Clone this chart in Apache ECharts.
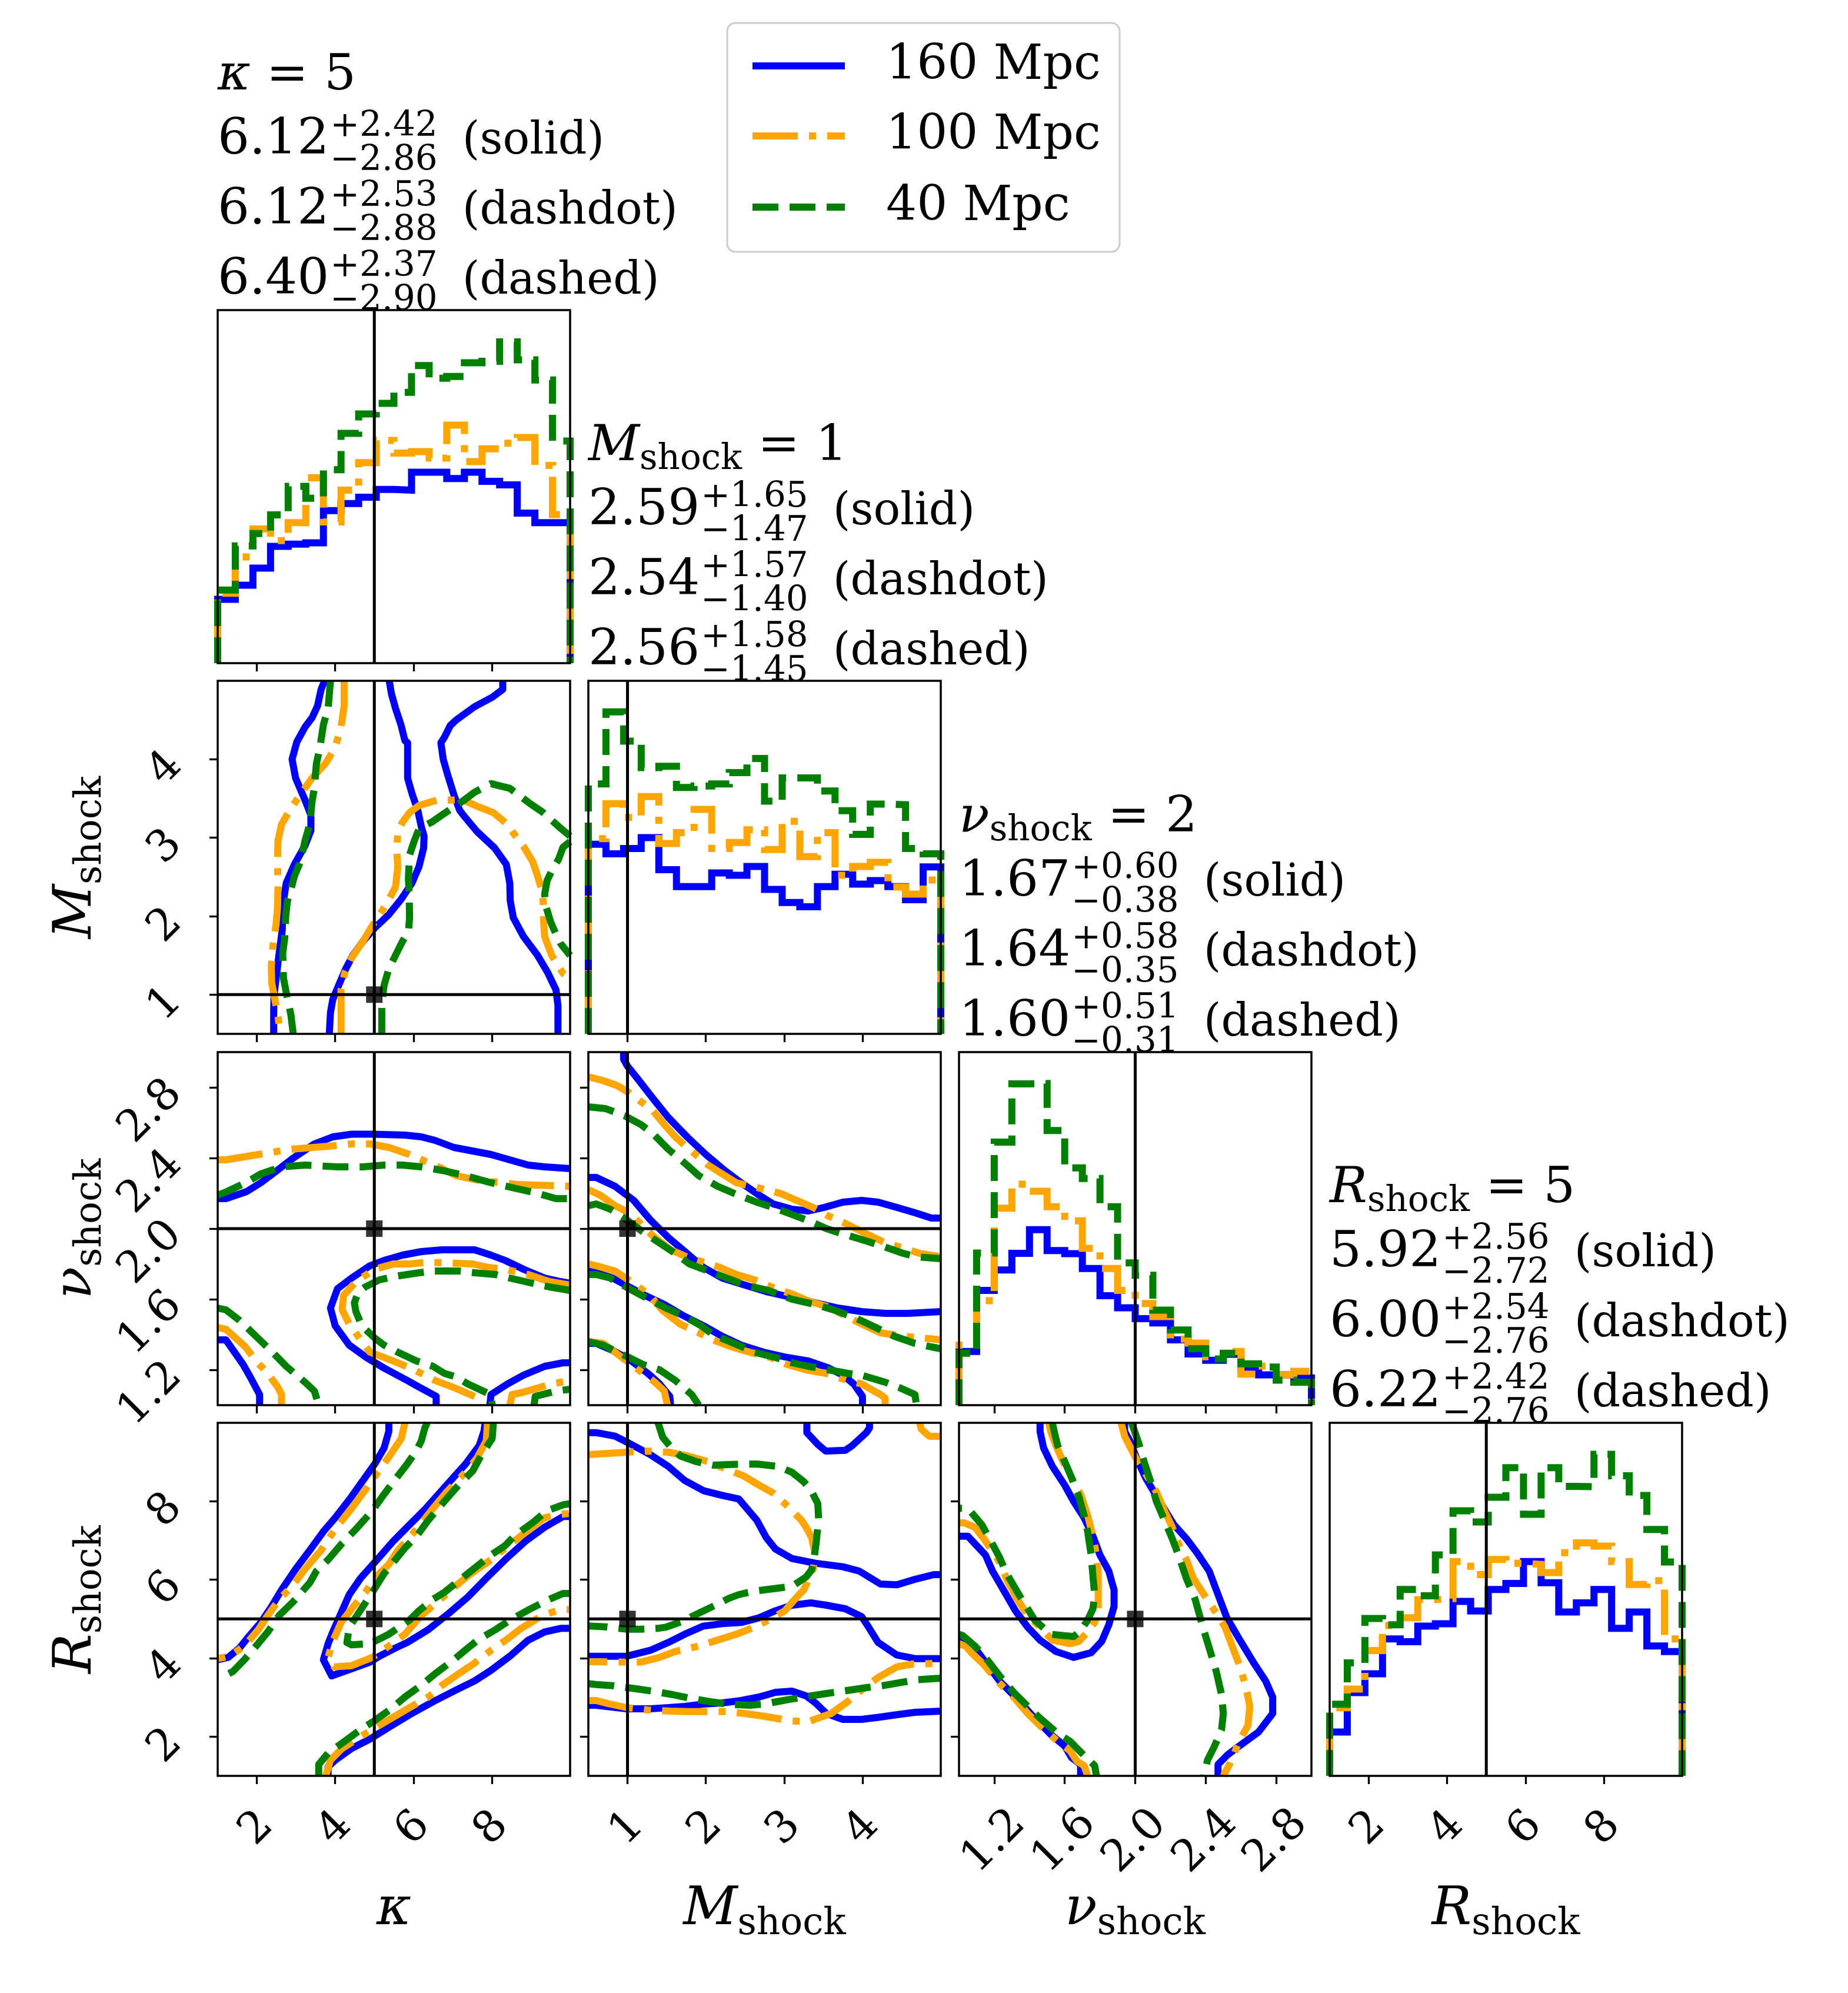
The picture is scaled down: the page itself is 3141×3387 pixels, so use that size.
<!DOCTYPE html>
<html><head><meta charset="utf-8">
<script src="https://cdn.jsdelivr.net/npm/echarts@6/dist/echarts.min.js"></script>
<style>html,body{margin:0;padding:0;background:#fff}#c{width:3141px;height:3387px}</style>
</head><body><div id="c"></div>
<script>
// ---------------- DATA ----------------
const paramKeys = ['kappa','M','nu','R'];
const rangeKappa = [1,10], rangeM = [0.5,5], rangeNu = [1,3], rangeR = [1,10];
const tickKappa = [2,4,6,8], tickM = [1,2,3,4], tickNu = [1.2,1.6,2.0,2.4,2.8], tickR = [2,4,6,8];
const truthValues = [5,1,2,5];
const legendNames = ['160 Mpc','100 Mpc','40 Mpc'];
const styleNames = ['solid','dashdot','dashed'];
const medians  = [['6.12','6.12','6.40'],['2.59','2.54','2.56'],['1.67','1.64','1.60'],['5.92','6.00','6.22']];
const errPlus  = [['2.42','2.53','2.37'],['1.65','1.57','1.58'],['0.60','0.58','0.51'],['2.56','2.54','2.42']];
const errMinus = [['2.86','2.88','2.90'],['1.47','1.40','1.45'],['0.38','0.35','0.31'],['2.72','2.76','2.76']];

const edgesKappa = [1.00,1.45,1.90,2.35,2.80,3.25,3.70,4.15,4.60,5.05,5.50,5.95,6.40,6.85,7.30,7.75,8.20,8.65,9.10,9.55,10.00];
const edgesM = [0.500,0.725,0.950,1.175,1.400,1.625,1.850,2.075,2.300,2.525,2.750,2.975,3.200,3.425,3.650,3.875,4.100,4.325,4.550,4.775,5.000];
const edgesNu = [1.0,1.1,1.2,1.3,1.4,1.5,1.6,1.7,1.8,1.9,2.0,2.1,2.2,2.3,2.4,2.5,2.6,2.7,2.8,2.9,3.0];
const edgesR = [1.00,1.45,1.90,2.35,2.80,3.25,3.70,4.15,4.60,5.05,5.50,5.95,6.40,6.85,7.30,7.75,8.20,8.65,9.10,9.55,10.00];

const histKappa160 = [18.1,22.1,26.9,33.1,33.7,34.1,43.2,45.2,47.0,49.2,49.0,54.1,54.1,52.3,54.1,51.5,50.5,42.5,39.8,39.8];
const histKappa100 = [19.8,30.1,38.0,34.7,39.8,52.5,40.0,49.0,56.8,63.1,59.5,59.9,58.1,67.4,57.1,60.7,62.3,63.9,56.0,42.1];
const histKappa40  = [20.7,33.2,36.7,42.0,50.1,46.7,54.8,65.1,70.6,73.6,76.7,84.3,80.7,81.2,85.1,85.5,91.0,85.9,80.2,62.9];
const histM160 = [53.7,51.0,52.5,55.6,46.5,41.7,41.7,45.6,44.9,47.4,40.9,37.2,36.0,41.7,45.2,42.4,43.4,41.7,38.0,47.3];
const histM100 = [55.3,65.2,61.3,67.2,53.9,57.0,63.6,52.5,54.2,57.8,52.2,60.2,50.2,57.0,44.9,47.4,48.6,41.6,39.6,43.6];
const histM40  = [70.8,91.2,82.9,75.4,75.8,69.8,70.2,70.8,74.0,78.0,65.9,72.5,72.5,68.8,63.2,56.5,65.1,64.9,52.5,51.0];
const histNu160 = [15.2,32.5,38.3,43.0,49.7,43.8,42.9,38.7,31.0,27.6,24.5,23.3,18.5,14.5,12.7,14.4,10.3,8.6,8.6,7.7];
const histNu100 = [17.0,29.6,55.8,62.6,60.6,56.2,52.2,44.4,38.7,32.5,28.8,25.1,18.7,17.6,13.7,15.2,8.8,11.1,8.6,9.6];
const histNu40  = [14.7,43.1,74.5,91.0,91.1,77.8,67.2,64.2,56.2,40.3,36.8,26.9,21.3,16.0,13.1,14.7,11.7,10.8,7.1,6.5];
const histR160 = [12.4,23.6,28.9,38.8,38.0,42.4,43.1,49.4,46.7,52.8,54.5,60.7,54.7,46.4,49.0,52.8,41.8,46.4,36.8,35.2];
const histR100 = [19.3,24.6,35.5,42.6,44.8,49.9,50.2,60.7,57.0,61.3,60.2,59.9,57.6,63.2,66.0,65.1,60.7,54.2,55.3,38.8];
const histR40  = [20.3,32.0,44.6,42.8,52.8,51.0,62.6,75.1,71.9,78.9,87.3,74.1,87.3,82.0,81.9,91.1,85.0,79.4,69.8,60.6];

// contour lines (x,y) per panel per dataset
const ctrKappaM160 = [
 [[3.73,5.00],[3.64,4.89],[3.55,4.68],[3.41,4.53],[3.23,4.41],[3.02,4.22],[2.90,4.00],[2.99,3.76],[3.23,3.48],[3.38,3.29],[3.38,3.09],[3.23,2.90],[2.96,2.66],[2.75,2.42],[2.66,2.13],[2.65,1.83],[2.57,1.53],[2.50,1.24],[2.44,1.00],[2.43,0.80],[2.43,0.50]],
 [[5.38,5.00],[5.44,4.83],[5.54,4.65],[5.68,4.44],[5.78,4.24],[5.85,4.21],[5.85,3.76],[5.97,3.55],[6.11,3.35],[6.20,3.14],[6.27,3.02],[6.26,2.87],[6.14,2.63],[5.96,2.42],[5.69,2.22],[5.37,2.02],[5.01,1.85],[4.71,1.68],[4.45,1.50],[4.27,1.33],[4.09,1.12],[3.94,0.94],[3.88,0.77],[3.85,0.50]],
 [[8.28,5.00],[8.28,4.89],[8.01,4.79],[7.56,4.67],[7.09,4.50],[6.94,4.43],[6.79,4.28],[6.70,4.21],[6.76,4.00],[6.88,3.79],[7.03,3.55],[7.18,3.35],[7.27,3.29],[7.62,3.08],[8.07,2.87],[8.37,2.66],[8.46,2.42],[8.47,2.20],[8.55,1.98],[8.81,1.74],[9.17,1.50],[9.44,1.27],[9.64,1.06],[9.69,0.86],[9.69,0.50]]
];
const ctrKappaM100 = [
 [[4.23,5.00],[4.23,4.68],[4.15,4.41],[4.00,4.15],[3.76,3.95],[3.41,3.76],[3.11,3.55],[2.84,3.35],[2.63,3.17],[2.54,2.96],[2.53,2.72],[2.54,2.37],[2.53,2.13],[2.49,1.89],[2.41,1.62],[2.37,1.36],[2.38,1.15],[2.46,0.94],[2.54,0.73],[2.59,0.50]],
 [[4.15,0.50],[4.15,1.06],[4.24,1.27],[4.42,1.47],[4.71,1.68],[5.01,1.93],[5.28,2.13],[5.54,2.37],[5.60,2.63],[5.57,2.84],[5.60,3.08],[5.72,3.20],[5.90,3.32],[6.14,3.41],[6.61,3.48],[6.85,3.48],[7.27,3.48],[7.68,3.39],[8.04,3.32],[8.40,3.17],[8.55,3.06],[8.81,2.89],[9.05,2.69],[9.17,2.51],[9.29,2.31],[9.32,2.13],[9.32,1.95],[9.35,1.74],[9.53,1.50],[9.82,1.27],[10.0,1.21]]
];
const ctrKappaM40 = [
 [[3.88,5.00],[3.82,4.65],[3.70,4.44],[3.61,4.15],[3.52,3.94],[3.47,3.64],[3.41,3.46],[3.35,3.17],[3.23,2.96],[3.11,2.69],[2.96,2.51],[2.87,2.34],[2.78,2.19],[2.74,2.01],[2.71,1.71],[2.66,1.53],[2.68,1.21],[2.75,1.03],[2.87,0.74],[2.93,0.50]],
 [[5.19,0.50],[5.19,0.88],[5.25,1.12],[5.37,1.33],[5.54,1.50],[5.72,1.68],[5.87,1.80],[5.90,1.98],[5.89,2.28],[5.87,2.48],[5.90,2.78],[6.02,2.96],[6.14,3.11],[6.26,3.15],[6.47,3.20],[6.73,3.29],[7.24,3.46],[7.56,3.58],[7.98,3.69],[8.13,3.67],[8.46,3.63],[8.99,3.43],[9.29,3.33],[9.76,3.12],[10.0,3.02]],
 [[10.0,2.95],[9.82,2.88],[9.70,2.72],[9.55,2.60],[9.41,2.45],[9.35,2.28],[9.38,2.13],[9.50,1.93],[9.64,1.77],[9.76,1.65],[10.0,1.50]]
];
const ctrKappaNu160 = [
 [[1.00,2.17],[1.21,2.17],[1.74,2.21],[2.10,2.26],[2.46,2.32],[2.93,2.40],[3.47,2.48],[3.94,2.52],[4.42,2.535],[4.95,2.535],[5.78,2.53],[6.20,2.52],[6.55,2.50],[7.03,2.46],[7.98,2.42],[8.93,2.36],[9.35,2.35],[10.0,2.34]],
 [[10.0,1.69],[9.76,1.70],[9.35,1.72],[8.81,1.77],[8.34,1.82],[7.98,1.85],[7.56,1.88],[7.09,1.88],[6.73,1.88],[6.20,1.87],[5.72,1.85],[5.25,1.82],[4.89,1.79],[4.42,1.72],[4.06,1.66],[3.88,1.55],[4.00,1.45],[4.36,1.34],[4.80,1.27],[5.25,1.21],[5.84,1.14],[6.08,1.11],[6.58,1.05],[6.58,1.00]],
 [[7.95,1.00],[7.98,1.06],[8.40,1.12],[8.81,1.17],[9.35,1.22],[9.82,1.24],[10.0,1.24]],
 [[1.00,1.37],[1.21,1.37],[1.65,1.23],[1.83,1.16],[2.07,1.06],[2.07,1.00]]
];
const ctrKappaNu100 = [
 [[1.00,2.39],[1.21,2.39],[2.04,2.42],[2.87,2.45],[4.00,2.47],[4.42,2.48],[4.89,2.48],[5.37,2.46],[5.90,2.42],[6.32,2.38],[6.73,2.34],[7.09,2.30],[7.74,2.27],[8.28,2.26],[8.63,2.25],[10.0,2.24]],
 [[10.0,1.68],[9.47,1.70],[8.93,1.74],[8.34,1.77],[7.92,1.78],[7.51,1.80],[6.38,1.81],[5.90,1.80],[5.49,1.80],[5.01,1.77],[4.53,1.70],[4.21,1.62],[4.18,1.54],[4.36,1.46],[4.65,1.37],[4.89,1.30],[5.25,1.27],[5.60,1.24],[6.02,1.20],[6.55,1.14],[7.03,1.10],[7.45,1.06],[7.65,1.04],[7.68,1.00]],
 [[8.46,1.00],[8.52,1.06],[8.75,1.07],[9.53,1.12],[10.0,1.14]],
 [[1.00,1.44],[1.21,1.43],[1.71,1.33],[1.98,1.25],[2.28,1.18],[2.54,1.10],[2.63,1.06],[2.63,1.00]]
];
const ctrKappaNu40 = [
 [[1.00,2.19],[1.24,2.21],[1.80,2.27],[2.10,2.31],[2.63,2.35],[3.23,2.36],[4.06,2.35],[4.71,2.35],[5.25,2.36],[5.72,2.36],[6.20,2.35],[6.73,2.33],[7.33,2.30],[7.98,2.26],[8.57,2.23],[9.17,2.20],[9.64,2.17],[10.0,2.17]],
 [[10.0,1.65],[9.47,1.67],[9.05,1.69],[8.46,1.72],[8.10,1.74],[7.56,1.75],[7.15,1.76],[6.50,1.76],[6.14,1.75],[5.54,1.73],[5.13,1.71],[4.77,1.67],[4.59,1.64],[4.49,1.58],[4.53,1.53],[4.68,1.45],[5.01,1.38],[5.25,1.34],[5.60,1.30],[6.08,1.25],[6.50,1.22],[6.79,1.18],[7.09,1.16],[7.39,1.12],[7.68,1.09],[7.98,1.06],[8.01,1.00]],
 [[9.08,1.00],[9.11,1.05],[9.64,1.08],[10.0,1.09]],
 [[1.00,1.55],[1.21,1.54],[1.56,1.48],[1.98,1.39],[2.40,1.30],[2.75,1.22],[3.23,1.13],[3.47,1.08],[3.58,1.00]]
];
const ctrMNu160 = [
 [[0.95,3.00],[0.95,2.96],[1.00,2.92],[1.11,2.86],[1.32,2.74],[1.52,2.63],[1.76,2.52],[2.00,2.42],[2.24,2.33],[2.45,2.26],[2.68,2.19],[2.86,2.14],[3.10,2.11],[3.31,2.10],[3.51,2.12],[3.75,2.15],[3.99,2.16],[4.20,2.15],[4.44,2.12],[4.67,2.09],[4.88,2.06],[5.00,2.06]],
 [[0.50,2.29],[0.60,2.29],[0.84,2.24],[1.08,2.16],[1.29,2.05],[1.52,1.95],[1.76,1.86],[1.97,1.78],[2.21,1.72],[2.50,1.68],[2.80,1.64],[3.10,1.61],[3.40,1.58],[3.69,1.55],[3.99,1.53],[4.29,1.52],[4.58,1.52],[5.00,1.53]],
 [[0.50,1.76],[0.60,1.75],[0.81,1.72],[1.02,1.67],[1.23,1.62],[1.47,1.57],[1.70,1.51],[1.97,1.45],[2.21,1.39],[2.45,1.34],[2.74,1.30],[3.04,1.27],[3.31,1.25],[3.57,1.21],[3.75,1.17],[3.89,1.12],[4.00,1.05],[4.00,1.00]],
 [[0.50,1.35],[0.60,1.35],[0.81,1.31],[1.02,1.26],[1.26,1.18],[1.41,1.12],[1.54,1.05],[1.55,1.00]]
];
const ctrMNu100 = [
 [[0.50,2.86],[0.68,2.84],[0.87,2.81],[1.02,2.77],[1.32,2.67],[1.47,2.59],[1.61,2.52],[1.76,2.46],[2.03,2.36],[2.21,2.31],[2.39,2.26],[2.68,2.23],[2.95,2.20],[3.16,2.16],[3.37,2.12],[3.57,2.07],[3.78,2.03],[4.05,1.97],[4.29,1.92],[4.52,1.89],[4.73,1.86],[5.00,1.84]],
 [[0.50,2.22],[0.65,2.19],[0.84,2.13],[1.02,2.09],[1.14,2.04],[1.32,1.96],[1.55,1.88],[1.76,1.84],[1.97,1.81],[2.18,1.78],[2.39,1.74],[2.62,1.71],[2.89,1.66],[3.10,1.63],[3.31,1.59],[3.54,1.56],[3.81,1.50],[3.99,1.46],[4.23,1.41],[4.52,1.39],[4.79,1.38],[5.00,1.37]],
 [[0.50,1.80],[0.60,1.79],[0.84,1.76],[1.11,1.68],[1.29,1.62],[1.44,1.54],[1.67,1.46],[1.91,1.41],[2.09,1.37],[2.33,1.33],[2.56,1.30],[2.83,1.27],[3.04,1.23],[3.28,1.20],[3.54,1.18],[3.81,1.14],[3.99,1.12],[4.23,1.06],[4.29,1.04],[4.29,1.00]],
 [[0.50,1.36],[0.69,1.35],[0.84,1.30],[1.02,1.24],[1.20,1.18],[1.35,1.13],[1.47,1.08],[1.51,1.00]]
];
const ctrMNu40 = [
 [[0.50,2.69],[0.72,2.68],[0.96,2.64],[1.17,2.59],[1.32,2.54],[1.52,2.45],[1.76,2.36],[1.91,2.30],[2.15,2.24],[2.36,2.20],[2.65,2.15],[2.86,2.12],[3.10,2.08],[3.34,2.04],[3.54,2.00],[3.75,1.97],[4.05,1.93],[4.26,1.90],[4.52,1.86],[4.70,1.84],[5.00,1.83]],
 [[0.50,2.13],[0.60,2.14],[0.78,2.11],[0.99,2.05],[1.20,1.98],[1.44,1.91],[1.61,1.86],[1.79,1.80],[2.03,1.76],[2.33,1.71],[2.50,1.68],[2.80,1.65],[3.10,1.60],[3.40,1.57],[3.63,1.54],[3.93,1.49],[4.17,1.44],[4.41,1.39],[4.67,1.35],[4.88,1.33],[5.00,1.32]],
 [[0.50,1.74],[0.60,1.74],[0.78,1.72],[1.02,1.66],[1.23,1.61],[1.49,1.55],[1.70,1.51],[1.94,1.45],[2.09,1.40],[2.36,1.35],[2.62,1.30],[2.89,1.27],[3.10,1.24],[3.31,1.22],[3.57,1.20],[3.81,1.18],[3.99,1.17],[4.29,1.13],[4.47,1.10],[4.67,1.06],[4.69,1.00]],
 [[0.50,1.36],[0.69,1.34],[0.87,1.30],[1.02,1.27],[1.20,1.23],[1.41,1.20],[1.61,1.14],[1.82,1.06],[1.91,1.00]]
];
const ctrKappaR160 = [
 [[5.37,10.00],[5.37,9.78],[5.25,9.36],[5.01,8.95],[4.71,8.53],[4.42,8.12],[4.00,7.58],[3.70,7.23],[3.35,6.75],[2.99,6.27],[2.63,5.74],[2.34,5.26],[2.10,4.91],[1.74,4.49],[1.56,4.26],[1.27,4.02],[1.00,3.96]],
 [[7.83,10.00],[7.80,9.78],[7.68,9.42],[7.33,8.95],[6.79,8.35],[6.32,7.82],[5.90,7.40],[5.49,6.99],[5.07,6.51],[4.65,6.04],[4.36,5.62],[4.15,5.15],[3.94,4.67],[3.82,4.37],[3.70,3.96],[3.91,3.55],[4.48,3.75],[4.89,3.90],[5.13,4.05],[5.54,4.26],[5.84,4.40],[6.38,4.73],[6.91,5.15],[7.39,5.56],[7.86,6.04],[8.34,6.51],[8.87,6.99],[9.35,7.34],[9.82,7.61],[10.0,7.61]],
 [[3.82,1.00],[3.82,1.23],[4.00,1.40],[4.42,1.70],[4.89,1.94],[5.37,2.24],[5.90,2.56],[6.50,2.89],[7.09,3.19],[7.56,3.42],[7.98,3.69],[8.46,4.05],[8.93,4.46],[9.35,4.67],[9.76,4.76],[10.0,4.76]]
];
const ctrKappaR100 = [
 [[5.78,10.00],[5.69,9.60],[5.37,9.13],[5.07,8.71],[4.77,8.29],[4.42,7.82],[4.00,7.29],[3.64,6.75],[3.23,6.27],[2.87,5.80],[2.57,5.50],[2.28,5.09],[2.04,4.73],[1.68,4.31],[1.30,4.05],[1.00,3.99]],
 [[7.89,10.00],[7.86,9.54],[7.62,9.10],[7.27,8.68],[6.85,8.24],[6.50,7.82],[6.08,7.29],[5.60,6.75],[5.37,6.39],[5.01,6.04],[4.77,5.68],[4.42,5.26],[4.15,4.91],[3.94,4.43],[3.82,4.02],[3.97,3.78],[4.42,3.81],[4.95,4.02],[5.37,4.31],[5.78,4.61],[6.20,5.09],[6.55,5.38],[7.03,5.80],[7.39,6.10],[7.98,6.51],[8.46,6.90],[8.81,7.17],[9.35,7.58],[9.76,7.67],[10.0,7.69]],
 [[3.76,1.00],[3.88,1.40],[4.18,1.70],[4.65,2.00],[5.13,2.29],[5.49,2.50],[5.90,2.74],[6.38,3.01],[6.73,3.31],[7.15,3.60],[7.51,3.84],[7.98,4.20],[8.40,4.49],[8.75,4.76],[9.29,5.09],[9.76,5.24],[10.0,5.24]]
];
const ctrKappaR40 = [
 [[6.35,10.00],[6.29,9.87],[6.20,9.54],[6.08,9.30],[5.84,8.95],[5.49,8.50],[5.25,8.18],[4.95,7.76],[4.53,7.29],[4.18,6.93],[3.82,6.51],[3.52,6.22],[3.35,5.92],[2.93,5.44],[2.57,5.09],[2.28,4.67],[1.98,4.31],[1.68,3.96],[1.39,3.66],[1.21,3.57],[1.00,3.57]],
 [[8.04,10.00],[8.01,9.60],[7.74,9.19],[7.51,8.77],[7.15,8.41],[6.79,8.00],[6.38,7.52],[6.08,7.11],[5.78,6.81],[5.49,6.45],[5.25,6.16],[4.95,5.68],[4.71,5.32],[4.48,4.97],[4.36,4.79],[4.30,4.40],[4.42,4.34],[4.89,4.37],[5.13,4.49],[5.37,4.61],[5.90,4.97],[6.14,5.21],[6.50,5.50],[6.79,5.68],[7.09,5.92],[7.39,6.16],[7.68,6.39],[7.98,6.63],[8.34,6.87],[8.57,7.11],[9.05,7.46],[9.41,7.76],[9.82,7.91],[10.0,7.94]],
 [[3.58,1.00],[3.58,1.29],[3.82,1.58],[4.24,1.88],[4.65,2.18],[5.01,2.41],[5.43,2.71],[5.78,3.01],[6.20,3.31],[6.55,3.60],[7.03,3.96],[7.39,4.26],[7.68,4.49],[8.10,4.73],[8.46,4.97],[8.99,5.26],[9.47,5.50],[9.82,5.65],[10.0,5.65]]
];
const ctrMR160 = [
 [[0.50,9.75],[0.60,9.75],[0.84,9.66],[1.02,9.48],[1.29,9.19],[1.52,8.89],[1.73,8.53],[1.97,8.27],[2.21,8.15],[2.42,8.06],[2.65,7.52],[2.77,7.08],[2.89,6.78],[3.10,6.54],[3.40,6.42],[3.75,6.33],[3.96,6.22],[4.23,5.89],[4.44,5.87],[4.67,6.01],[4.91,6.13],[5.00,6.13]],
 [[3.29,10.00],[3.29,9.75],[3.43,9.45],[3.53,9.28],[3.78,9.30],[3.87,9.42],[4.05,9.75],[4.09,9.87],[4.09,10.00]],
 [[0.50,4.05],[0.99,4.05],[1.29,4.20],[1.52,4.40],[1.73,4.61],[1.97,4.82],[2.21,4.88],[2.45,4.91],[2.68,5.03],[2.89,5.21],[3.10,5.35],[3.34,5.41],[3.54,5.35],[3.78,5.26],[3.99,5.06],[4.06,4.85],[4.20,4.40],[4.44,4.08],[4.67,3.99],[5.00,3.99]],
 [[0.50,2.80],[0.60,2.80],[0.99,2.71],[1.29,2.71],[1.52,2.74],[1.73,2.77],[1.97,2.83],[2.21,2.86],[2.45,2.92],[2.68,3.01],[2.89,3.13],[3.10,3.16],[3.28,3.04],[3.40,2.86],[3.54,2.59],[3.75,2.44],[3.99,2.44],[4.23,2.50],[4.44,2.56],[4.67,2.62],[5.00,2.65]]
];
const ctrMR100 = [
 [[0.50,9.19],[0.75,9.22],[0.99,9.25],[1.26,9.28],[1.52,9.25],[1.76,9.16],[2.03,9.01],[2.21,8.86],[2.48,8.65],[2.68,8.41],[2.86,8.21],[3.01,7.94],[3.22,7.52],[3.28,7.34],[3.35,7.08],[3.40,6.63],[3.37,6.27],[3.32,6.04],[3.25,5.74],[3.19,5.62],[3.07,5.35],[3.01,5.21],[2.80,4.97],[2.62,4.79],[2.39,4.61],[2.15,4.46],[1.91,4.31],[1.61,4.17],[1.41,4.02],[1.17,3.90],[0.99,3.90],[0.60,3.91],[0.50,3.91]],
 [[0.50,2.92],[0.60,2.92],[0.78,2.83],[0.99,2.74],[1.26,2.68],[1.55,2.65],[1.79,2.64],[2.00,2.64],[2.27,2.64],[2.50,2.59],[2.71,2.53],[2.89,2.47],[3.10,2.40],[3.31,2.38],[3.43,2.47],[3.60,2.59],[3.81,2.89],[3.99,3.19],[4.20,3.51],[4.44,3.78],[4.64,3.85],[5.00,3.87]],
 [[4.73,10.00],[4.75,9.84],[4.85,9.66],[5.00,9.65]]
];
const ctrMR40 = [
 [[1.39,10.00],[1.45,9.63],[1.55,9.39],[1.67,9.16],[1.88,9.01],[2.09,8.92],[2.33,8.94],[2.65,8.95],[2.92,8.89],[3.10,8.74],[3.25,8.50],[3.34,8.29],[3.43,7.94],[3.44,7.55],[3.41,6.96],[3.38,6.51],[3.35,6.25],[3.28,6.07],[3.10,5.83],[2.86,5.77],[2.62,5.71],[2.42,5.62],[2.30,5.53],[2.09,5.32],[1.85,5.09],[1.70,4.94],[1.49,4.79],[1.38,4.76],[1.17,4.74],[0.99,4.74],[0.72,4.80],[0.50,4.82]],
 [[0.50,3.35],[0.60,3.33],[0.81,3.30],[1.11,3.22],[1.32,3.16],[1.58,3.07],[1.79,2.98],[2.06,2.89],[2.27,2.83],[2.56,2.80],[2.77,2.84],[3.04,2.94],[3.25,3.01],[3.54,3.10],[3.75,3.16],[4.05,3.25],[4.26,3.30],[4.52,3.39],[4.70,3.45],[5.00,3.49]]
];
const ctrNuR160 = [
 [[1.46,10.00],[1.46,9.78],[1.48,9.36],[1.53,8.89],[1.60,8.41],[1.65,8.00],[1.71,7.58],[1.76,7.11],[1.80,6.63],[1.85,6.22],[1.88,5.74],[1.88,5.32],[1.85,4.85],[1.81,4.43],[1.75,4.14],[1.65,4.02],[1.55,4.17],[1.46,4.46],[1.39,4.79],[1.32,5.21],[1.26,5.68],[1.19,6.22],[1.15,6.63],[1.05,7.11],[1.00,7.11]],
 [[1.94,10.00],[1.94,9.78],[1.97,9.54],[2.01,9.07],[2.06,8.59],[2.13,8.06],[2.22,7.40],[2.29,7.05],[2.35,6.69],[2.42,6.22],[2.46,5.74],[2.52,5.03],[2.59,4.49],[2.67,3.90],[2.74,3.42],[2.78,3.01],[2.78,2.59],[2.70,2.12],[2.59,1.76],[2.52,1.52],[2.47,1.29],[2.47,1.00]],
 [[1.00,4.46],[1.05,4.43],[1.10,4.20],[1.15,3.90],[1.23,3.42],[1.32,3.01],[1.43,2.47],[1.52,2.06],[1.60,1.76],[1.64,1.46],[1.69,1.29],[1.69,1.00]]
];
const ctrNuR100 = [
 [[1.51,10.00],[1.52,9.78],[1.55,9.42],[1.59,9.01],[1.64,8.59],[1.69,8.18],[1.73,7.64],[1.76,7.11],[1.78,6.63],[1.79,6.16],[1.79,5.68],[1.79,5.26],[1.77,4.91],[1.73,4.67],[1.68,4.43],[1.63,4.37],[1.53,4.46],[1.46,4.79],[1.39,5.09],[1.34,5.44],[1.28,5.92],[1.23,6.45],[1.15,6.99],[1.09,7.34],[1.03,7.45],[1.00,7.45]],
 [[1.92,10.00],[1.94,9.66],[2.00,9.13],[2.05,8.77],[2.12,8.24],[2.16,7.82],[2.21,7.34],[2.25,6.87],[2.29,6.51],[2.33,6.04],[2.39,5.62],[2.46,5.15],[2.51,4.79],[2.55,4.31],[2.59,3.84],[2.63,3.25],[2.65,2.77],[2.64,2.29],[2.59,1.88],[2.54,1.34],[2.50,1.00]],
 [[1.00,4.37],[1.04,4.30],[1.07,4.14],[1.14,3.84],[1.23,3.36],[1.31,3.01],[1.39,2.59],[1.47,2.24],[1.56,1.88],[1.63,1.64],[1.67,1.37],[1.71,1.26],[1.73,1.00]]
];
const ctrNuR40 = [
 [[1.53,10.00],[1.54,9.78],[1.56,9.42],[1.60,9.01],[1.64,8.59],[1.68,8.12],[1.71,7.64],[1.73,7.23],[1.75,6.63],[1.76,6.10],[1.77,5.62],[1.76,5.26],[1.73,4.97],[1.69,4.70],[1.65,4.55],[1.52,4.61],[1.43,4.97],[1.34,5.62],[1.27,6.16],[1.23,6.57],[1.18,6.99],[1.13,7.40],[1.05,7.82],[1.00,7.82]],
 [[1.98,10.00],[2.02,9.48],[2.05,9.01],[2.09,8.47],[2.12,8.00],[2.16,7.58],[2.21,7.05],[2.25,6.57],[2.29,6.04],[2.34,5.50],[2.38,4.85],[2.42,4.26],[2.46,3.66],[2.49,3.07],[2.50,2.59],[2.49,2.18],[2.45,1.76],[2.41,1.40],[2.39,1.00]],
 [[1.00,4.61],[1.02,4.58],[1.09,4.31],[1.15,4.02],[1.23,3.55],[1.31,3.13],[1.39,2.77],[1.46,2.47],[1.55,2.12],[1.63,1.88],[1.71,1.52],[1.77,1.26],[1.78,1.00]]
];

// ---------------- STYLE / LAYOUT ----------------
const FONTFAM = '"DejaVu Serif"';
const COLORS = ['#0000ff','#ffa500','#008000'];
const DASHES = ['solid',[77,19,12,19],[44,19]];
const LW = 12;
const colLeft = [370,1000,1630,2260], rowTop = [527,1157,1788,2418], PW = 599, PH = 600;
const TICK_FS = 74, MATH_FS = 85, PAREN_FS = 76, LABEL_FS = 90, LEG_FS = 82;
const SCRIPT_GAP = 20;
const MID = 0.346;

const ranges = [rangeKappa, rangeM, rangeNu, rangeR];
const ticks = [tickKappa, tickM, tickNu, tickR];
const edges = [edgesKappa, edgesM, edgesNu, edgesR];
const hists = [[histKappa160,histKappa100,histKappa40],[histM160,histM100,histM40],[histNu160,histNu100,histNu40],[histR160,histR100,histR40]];
const contours = {
 '0_1':[ctrKappaM160,ctrKappaM100,ctrKappaM40],
 '0_2':[ctrKappaNu160,ctrKappaNu100,ctrKappaNu40],
 '1_2':[ctrMNu160,ctrMNu100,ctrMNu40],
 '0_3':[ctrKappaR160,ctrKappaR100,ctrKappaR40],
 '1_3':[ctrMR160,ctrMR100,ctrMR40],
 '2_3':[ctrNuR160,ctrNuR100,ctrNuR40]
};
const fmt = [v=>String(v), v=>String(v), v=>v.toFixed(1), v=>String(v)];

const cv = document.createElement('canvas').getContext('2d');
function tw(t,size,it){ cv.font=(it?'italic ':'')+size+'px '+FONTFAM; return cv.measureText(t).width; }
function T(t,x,yb,size,it){
  return {type:'text', x:x, y:yb-MID*size, z:100, silent:true,
    style:{text:t, font:(it?'italic ':'')+size+'px '+FONTFAM, fill:'#000',
      align:'left', textAlign:'left', verticalAlign:'middle', textVerticalAlign:'middle'}};
}
// items: {t, it, fs} | {sup, sub} | {lo}
function mathRow(items,S){
  let x=0; const out=[]; const s=0.7*S;
  for(const it of items){
    if(it.sup!==undefined){
      out.push(T(it.sup,x+2,-32,s)); out.push(T(it.sub,x+2,26,s));
      x+=Math.max(tw(it.sup,s),tw(it.sub,s))+SCRIPT_GAP;
    } else if(it.lo!==undefined){
      out.push(T(it.lo,x,0.16*S,0.7*S)); x+=tw(it.lo,0.7*S);
    } else { const f=it.fs||S; out.push(T(it.t,x,0,f,it.it)); x+=tw(it.t,f,it.it); }
  }
  return {children:out,width:x};
}
const symNames = [[{t:'κ',it:1}],[{t:'M',it:1},{lo:'shock'}],[{t:'ν',it:1},{lo:'shock'}],[{t:'R',it:1},{lo:'shock'}]];

const grids=[], xAxes=[], yAxes=[], series=[], graphics=[];
function stepPts(e,v){ const p=[[e[0],0]]; for(let i=0;i<v.length;i++){p.push([e[i],v[i]]);p.push([e[i+1],v[i]]);} p.push([e[e.length-1],0]); return p; }
function lineS(g,data,color,dash,width,z,join){
  return {type:'line', xAxisIndex:g, yAxisIndex:g, data:data, symbol:'none', showSymbol:false, silent:true, animation:false, clip:true, z:z,
    lineStyle:{color:color, width:width, type:dash, cap:'butt', join:join}, emphasis:{disabled:true}};
}
function axisCfg(g,pi,isX,showTick,showLabel){
  const o = {gridIndex:g, type:'value', min:ranges[pi][0], max:ranges[pi][1], show:true,
    axisLine:{show:false}, splitLine:{show:false},
    axisTick:{show:showTick, inside:false, length:14, lineStyle:{color:'#000',width:3.3}, customValues:ticks[pi]},
    axisLabel:{show:showLabel, customValues:ticks[pi], rotate:45, color:'#000', fontFamily:FONTFAM, fontSize:TICK_FS, formatter:fmt[pi]}};
  if(isX){ o.position='bottom'; o.axisLabel.align='center'; o.axisLabel.verticalAlign='middle'; o.axisLabel.margin = pi===2?112:90; }
  else { o.position='left'; o.axisLabel.margin=72; }
  return o;
}
let g=0;
for(let r=0;r<4;r++){
  for(let c=0;c<=r;c++){
    grids.push({left:colLeft[c], top:rowTop[r], width:PW, height:PH, show:false, containLabel:false, outerBoundsMode:'none'});
    xAxes.push(axisCfg(g,c,true,true,r===3));
    if(r===c){
      yAxes.push({gridIndex:g, type:'value', min:0, max:100, show:false, splitLine:{show:false}});
      for(let k=0;k<3;k++) series.push(lineS(g,stepPts(edges[c],hists[c][k]),COLORS[k],DASHES[k],LW,2+k,'miter'));
      series.push(lineS(g,[[truthValues[c],0],[truthValues[c],100]],'#000','solid',5,10,'miter'));
    } else {
      yAxes.push(axisCfg(g,r,false,true,c===0));
      const cs = contours[c+'_'+r];
      for(let k=0;k<3;k++) for(const seg of cs[k]) series.push(lineS(g,seg,COLORS[k],DASHES[k],LW,2+k,'round'));
      const tx=truthValues[c], ty=truthValues[r];
      series.push(lineS(g,[[tx,ranges[r][0]],[tx,ranges[r][1]]],'#000','solid',5,10,'miter'));
      series.push(lineS(g,[[ranges[c][0],ty],[ranges[c][1],ty]],'#000','solid',5,10,'miter'));
      series.push({type:'scatter', xAxisIndex:g, yAxisIndex:g, data:[[tx,ty]], symbol:'rect', symbolSize:28, itemStyle:{color:'#000'}, z:11, silent:true, animation:false});
    }
    graphics.push({type:'rect', shape:{x:colLeft[c],y:rowTop[r],width:PW,height:PH}, style:{fill:'none',stroke:'#000',lineWidth:3.5}, z:90, silent:true});
    g++;
  }
}

// titles above diagonal panels
for(let i=0;i<4;i++){
  const top=rowTop[i], left=colLeft[i];
  const baselines=[top-368, top-259, top-140, top-21];
  const l1 = mathRow(symNames[i].concat([{t:' = '+truthValues[i]}]),MATH_FS);
  graphics.push({type:'group', x:left, y:baselines[0], children:l1.children, z:100});
  for(let k=0;k<3;k++){
    const row = mathRow([{t:medians[i][k]},{sup:'+'+errPlus[i][k], sub:'−'+errMinus[i][k]},{t:' ('+styleNames[k]+')', fs:PAREN_FS}],MATH_FS);
    graphics.push({type:'group', x:left, y:baselines[k+1], children:row.children, z:100});
  }
}
// x axis labels
for(let c=0;c<4;c++){
  const m=mathRow(symNames[c],LABEL_FS);
  graphics.push({type:'group', x:colLeft[c]+PW/2-m.width/2, y:3278, children:m.children, z:100});
}
// y axis labels
for(let r=1;r<4;r++){
  const m=mathRow(symNames[r],LABEL_FS);
  m.children.forEach(ch=>{ch.x-=m.width/2;});
  graphics.push({type:'group', x:162, y:rowTop[r]+PH/2, rotation:Math.PI/2, children:m.children, z:100});
}
// legend
graphics.push({type:'rect', shape:{x:1236,y:39,width:667,height:389,r:14}, style:{fill:'rgba(255,255,255,0.8)',stroke:'#cccccc',lineWidth:3}, z:95, silent:true});
const legY=[112,231,352];
for(let k=0;k<3;k++){
  graphics.push({type:'line', shape:{x1:1279,y1:legY[k],x2:1436,y2:legY[k]}, style:{stroke:COLORS[k],lineWidth:LW,lineDash:k===0?null:DASHES[k],lineCap:'butt'}, z:100, silent:true});
  graphics.push(T(legendNames[k],1506,legY[k]+0.36*LEG_FS,LEG_FS));
}

const chart = echarts.init(document.getElementById('c'), null, {renderer:'canvas', width:3141, height:3387});
chart.setOption({animation:false, backgroundColor:'#ffffff', textStyle:{fontFamily:FONTFAM},
  grid:grids, xAxis:xAxes, yAxis:yAxes, series:series, graphic:{elements:graphics}});
</script></body></html>
